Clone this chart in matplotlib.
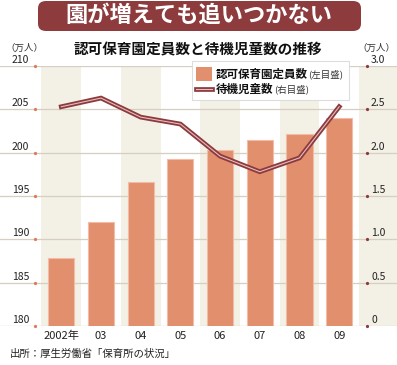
import numpy as np
import matplotlib
matplotlib.use("Agg")
import matplotlib.pyplot as plt
import matplotlib.transforms as mtransforms
from matplotlib.patches import FancyBboxPatch, Rectangle
from matplotlib.lines import Line2D

plt.rcParams['font.family'] = ['Noto Sans CJK JP', 'DejaVu Sans']

# data
years = ['2002年', '03', '04', '05', '06', '07', '08', '09']
capacity = [187.9, 192.0, 196.6, 199.3, 200.3, 201.5, 202.1, 204.0]   # 万人, left axis
waiting = [2.53, 2.63, 2.41, 2.33, 1.96, 1.78, 1.94, 2.53]           # 万人, right axis
left_ticks = [180, 185, 190, 195, 200, 205, 210]
right_ticks = [0, 0.5, 1.0, 1.5, 2.0, 2.5, 3.0]
right_labels = ['0', '0.5', '1.0', '1.5', '2.0', '2.5', '3.0']

W, H = 397, 365
bar_col = '#E28F6D'
bar_edge = '#F2BCA6'
line_dark = '#8C3A3F'
line_light = '#E6BDB8'
stripe = '#F3F0E5'
grid_col = '#D5CFC1'
banner = '#8E3B3E'

fig = plt.figure(figsize=(W / 100, H / 100), dpi=100)

def fx(p):
    return p / W

def fy(p):
    return 1 - p / H

ax = fig.add_axes([0, fy(326), 1, (326 - 66) / H])
ax.set_facecolor('none')
for s in ax.spines.values():
    s.set_visible(False)

x = np.arange(len(years))
step = 39.7
c0 = 61.3
ax.set_xlim(-c0 / step, (W - c0) / step)
ax.set_ylim(180, 210)

# alternating stripes (including extra column for right axis)
for i in range(0, len(years) + 1, 2):
    ax.axvspan(i - 0.5, i + 0.5, color=stripe, zorder=0, lw=0)

for v in left_ticks:
    ax.axhline(v, color=grid_col, lw=0.9, zorder=1)

ax.bar(x, capacity, width=0.655, color=bar_col, edgecolor=bar_edge, linewidth=0.8, zorder=2)
ax.set_xticks([])
ax.set_yticks([])

ax2 = ax.twinx()
for s in ax2.spines.values():
    s.set_visible(False)
ax2.set_ylim(0, 3.0)
ax2.set_yticks([])
ax2.plot(x, waiting, color=line_dark, lw=3.4, solid_joinstyle='miter', zorder=3)
ax2.plot(x, waiting, color=line_light, lw=0.8, zorder=4)

# tick labels and dots
off = mtransforms.ScaledTranslation(0, 1 / 100, fig.dpi_scale_trans)
tl = mtransforms.blended_transform_factory(fig.transFigure, ax.transData)
tr = mtransforms.blended_transform_factory(fig.transFigure, ax2.transData)
for v in left_ticks:
    ax.text(fx(29), v, str(v), transform=tl + off, ha='right', va='bottom', fontsize=7.5, color='#222222')
ax.plot([fx(35)] * len(left_ticks), left_ticks, 'o', ms=1.3, color='#E07A55', transform=tl, clip_on=False, zorder=5)
for v, lab in zip(right_ticks, right_labels):
    ax2.text(fx(371), v, lab, transform=tr + off, ha='left', va='bottom', fontsize=7.5, color='#222222')
ax2.plot([fx(366.5)] * len(right_ticks), right_ticks, 'o', ms=1.3, color=line_dark, transform=tr, clip_on=False, zorder=5)

tx = mtransforms.blended_transform_factory(ax.transData, fig.transFigure)
for xi, lab in zip(x, years):
    ax.text(xi, fy(336), lab, transform=tx, ha='center', va='center', fontsize=8, color='#222222')

fig.text(fx(5), fy(48), '（万人）', ha='left', va='center', fontsize=6.8, color='#333333')
fig.text(fx(395), fy(48), '（万人）', ha='right', va='center', fontsize=6.8, color='#333333')

# banner
fig.patches.append(FancyBboxPatch((fx(38), fy(31)), fx(323), fy(1) - fy(31),
                                  boxstyle='round,pad=0,rounding_size=0.02',
                                  transform=fig.transFigure, facecolor=banner, edgecolor='none'))
fig.text(fx(199), fy(15.5), '園が増えても追いつかない', ha='center', va='center',
         fontsize=16, fontweight='bold', color='white')
fig.text(fx(198), fy(49), '認可保育園定員数と待機児童数の推移', ha='center', va='center',
         fontsize=10.5, fontweight='bold', color='#111111')

# legend
fig.patches.append(Rectangle((fx(191.5), fy(100)), fx(157), fy(61) - fy(100), transform=fig.transFigure,
                             facecolor='white', edgecolor='#DDDDDD', lw=0.8, zorder=10))
fig.patches.append(Rectangle((fx(196), fy(81)), fx(16), fy(67) - fy(81), transform=fig.transFigure,
                             facecolor=bar_col, edgecolor='none', zorder=11))
fig.lines.append(Line2D([fx(196), fx(212)], [fy(89), fy(89)], transform=fig.transFigure,
                        color=line_dark, lw=3.4, zorder=11))
fig.lines.append(Line2D([fx(196), fx(212)], [fy(89), fy(89)], transform=fig.transFigure,
                        color=line_light, lw=0.8, zorder=12))
fig.text(fx(216), fy(74), '認可保育園定員数', ha='left', va='center', fontsize=8.3,
         fontweight='bold', color='#111111', zorder=12)
fig.text(fx(308), fy(74.5), '(左目盛)', ha='left', va='center', fontsize=6.8, color='#333333', zorder=12)
fig.text(fx(216), fy(89), '待機児童数', ha='left', va='center', fontsize=8.3,
         fontweight='bold', color='#111111', zorder=12)
fig.text(fx(274), fy(89.5), '(右目盛)', ha='left', va='center', fontsize=6.8, color='#333333', zorder=12)

fig.text(fx(10), fy(354), '出所：厚生労働省「保育所の状況」', ha='left', va='center', fontsize=7.5, color='#222222')

fig.savefig('out.png', dpi=100)
